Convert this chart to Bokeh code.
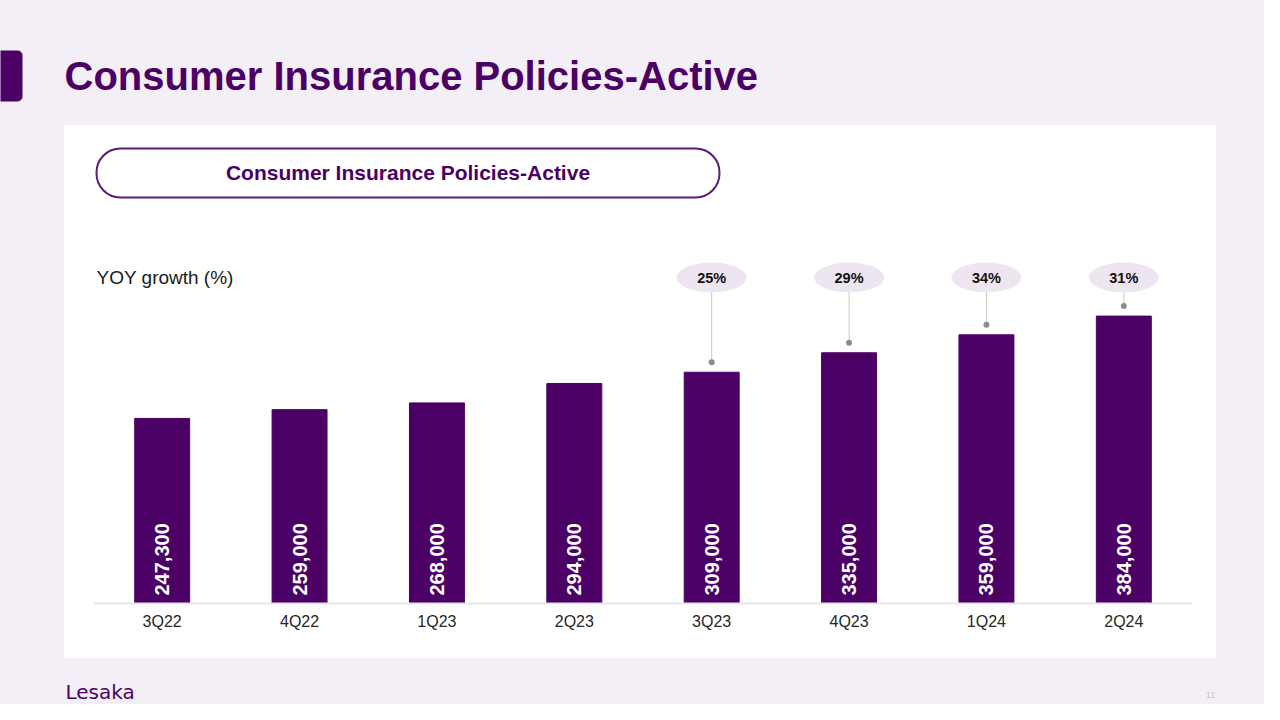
import math
from bokeh.plotting import figure
from bokeh.layouts import column, row
from bokeh.models import BoxAnnotation, Label, FactorRange, Range1d, Spacer
from bokeh.core.properties import value
from bokeh.embed import file_html
from bokeh.resources import INLINE

# ---- data ----
categories = ["3Q22", "4Q22", "1Q23", "2Q23", "3Q23", "4Q23", "1Q24", "2Q24"]
policies = [247300, 259000, 268000, 294000, 309000, 335000, 359000, 384000]
yoy_categories = ["3Q23", "4Q23", "1Q24", "2Q24"]
yoy_growth = [25, 29, 34, 31]
title_text = "Consumer Insurance Policies-Active"
yoy_title = "YOY growth (%)"

# ---- style / layout constants ----
W, H = 1264, 704
PURPLE = "#4B0066"
BG = "#F4EFF6"
FONT = "Liberation Sans"

CARD_L, CARD_R, CARD_T, CARD_B = 64, 1216, 125, 658
CHART_W = CARD_R - CARD_L
CHART_H = CARD_B - CARD_T
FRAME_L, FRAME_R, BASE_Y = 93, 1192, 603
BOTTOM_H = H - CARD_B

PX_PER_UNIT = 363 / 485000
Y_MAX = (BASE_Y - CARD_T) / PX_PER_UNIT
BUBBLE_Y = (BASE_Y - 277) / PX_PER_UNIT
DOT_GAP = 10 / PX_PER_UNIT


def pixel_fig(w, h, y0, y1):
    f = figure(width=w, height=h, x_range=Range1d(0, w), y_range=Range1d(y1, y0),
               output_backend="svg", toolbar_location=None,
               x_axis_location=None, y_axis_location=None, min_border=0)
    f.background_fill_color = BG
    f.border_fill_color = BG
    f.outline_line_color = None
    f.grid.visible = False
    return f


# ---- header ----
top = pixel_fig(W, CARD_T, 0, CARD_T)
top.add_layout(BoxAnnotation(left=-12, right=22, top=50, bottom=101,
                             fill_color=PURPLE, fill_alpha=1, line_color=None,
                             border_radius=5, level="underlay"))
top.text(x=[64], y=[75], text=[title_text], text_font=value(FONT),
         text_font_style="bold", text_font_size="40px", text_color=PURPLE,
         text_baseline="middle")

# ---- chart card ----
p = figure(width=CHART_W, height=CHART_H,
           x_range=FactorRange(factors=categories),
           y_range=Range1d(0, Y_MAX),
           output_backend="svg", toolbar_location=None,
           y_axis_location=None,
           min_border_left=FRAME_L - CARD_L, min_border_right=CARD_R - FRAME_R,
           min_border_top=0, min_border_bottom=CARD_B - BASE_Y,
           styles={"background-color": "white"})
p.background_fill_color = "white"
p.border_fill_color = "white"
p.outline_line_color = None
p.grid.visible = False

ax = p.xaxis[0]
ax.axis_line_color = "#E8E5EB"
ax.axis_line_width = 2
ax.major_tick_line_color = None
ax.minor_tick_line_color = None
ax.major_label_text_font = FONT
ax.major_label_text_font_size = "16px"
ax.major_label_text_color = "#262626"
ax.major_label_standoff = 3

# section pill
p.add_layout(BoxAnnotation(left=96 - CARD_L, right=719 - CARD_L,
                           top=148 - CARD_T, bottom=197 - CARD_T,
                           left_units="canvas", right_units="canvas",
                           top_units="canvas", bottom_units="canvas",
                           fill_color="white", fill_alpha=1, line_color="#581C7C",
                           line_alpha=1, line_width=2, border_radius=24,
                           level="underlay"))
p.add_layout(Label(x=407.5 - CARD_L, y=172 - CARD_T, x_units="canvas", y_units="canvas",
                   text=title_text, text_font=FONT, text_font_style="bold",
                   text_font_size="21px", text_color=PURPLE, text_align="center",
                   text_baseline="middle"))
p.add_layout(Label(x=96 - CARD_L, y=276.7 - CARD_T, x_units="canvas", y_units="canvas",
                   text=yoy_title, text_font=FONT, text_font_size="19px",
                   text_color="#1A1A1A", text_baseline="middle"))

p.vbar(x=categories, top=policies, width=0.4, fill_color=PURPLE, line_color=PURPLE)
p.text(x=categories, y=[0] * len(categories), text=[f"{v:,}" for v in policies],
       angle=math.pi / 2, text_align="left", text_baseline="middle", y_offset=-8,
       text_font=value(FONT), text_font_style="bold", text_font_size="20px",
       text_color="white")

yoy_values = [policies[categories.index(c)] for c in yoy_categories]
dot_y = [v + DOT_GAP for v in yoy_values]
p.segment(x0=yoy_categories, y0=[BUBBLE_Y] * len(yoy_categories),
          x1=yoy_categories, y1=dot_y, line_color="#C8C8C8", line_width=1)
p.scatter(x=yoy_categories, y=dot_y, size=6, fill_color="#8C8C8C", line_color=None)
p.ellipse(x=yoy_categories, y=[BUBBLE_Y] * len(yoy_categories), width=70, height=30,
          width_units="screen", height_units="screen",
          fill_color="#EDE5F0", line_color=None)
p.text(x=yoy_categories, y=[BUBBLE_Y] * len(yoy_categories),
       text=[f"{g}%" for g in yoy_growth],
       text_align="center", text_baseline="middle",
       text_font=value(FONT), text_font_style="bold", text_font_size="14.5px",
       text_color="#111111")

left_sp = Spacer(width=CARD_L, height=CHART_H, styles={"background-color": BG})
right_sp = Spacer(width=W - CARD_R, height=CHART_H, styles={"background-color": BG})
mid = row(left_sp, p, right_sp, spacing=0)

# ---- footer ----
bot = pixel_fig(W, BOTTOM_H, CARD_B, H)
bot.text(x=[65], y=[691.5], text=["Lesaka"], text_font=value("DejaVu Sans"),
         text_font_size="20px", text_color=PURPLE, text_baseline="middle")
bot.text(x=[1210], y=[694], text=["11"], text_font=value(FONT),
         text_font_size="9px", text_color="#C4C4C4", text_align="center",
         text_baseline="middle")

layout = column(top, mid, bot, spacing=0, styles={"background-color": BG})

open("out.html", "w").write(file_html(layout, INLINE))
